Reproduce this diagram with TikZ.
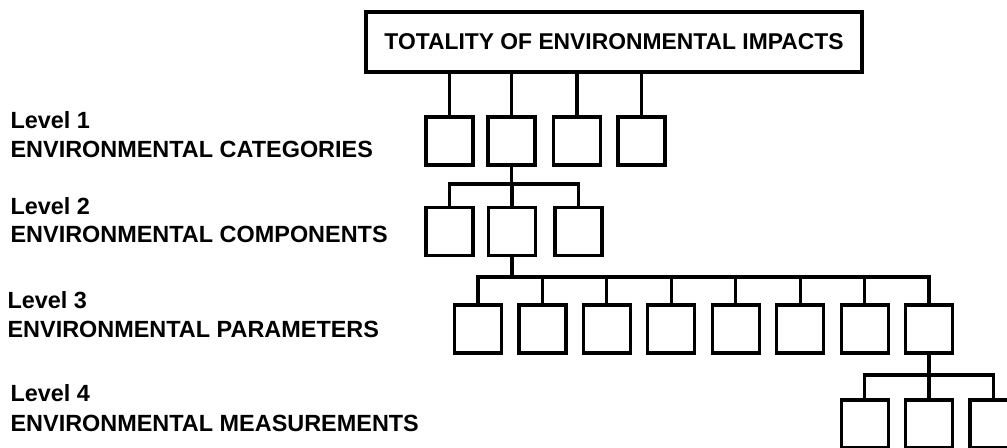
\documentclass[tikz,border=0pt]{standalone}
\usepackage{fontspec}
\setmainfont{Liberation Sans}
\usetikzlibrary{positioning}

\begin{document}
\begin{tikzpicture}[x=0.03cm,y=-0.03cm,line width=2.7pt,node distance=1.933cm,on grid]

    \tikzset{blk/.style={draw,rectangle,minimum width=1.41cm,minimum height=1.44cm,inner sep=0pt}}
    \tikzset{lbl/.style={anchor=base west,inner sep=0pt,font=\fontsize{20}{24}\selectfont\bfseries}}

    \useasboundingbox (0,0) rectangle (1007,447);
    \clip (0,0) rectangle (1007,447);

    \node[draw,rectangle,minimum width=14.88cm,minimum height=1.8cm,
          font=\fontsize{19.5}{24}\selectfont\bfseries] (top) at (614,42) {TOTALITY OF ENVIRONMENTAL IMPACTS};

    % level labels
    \node[lbl] (lev1) at (9,128) {Level 1};
    \node[lbl] (cat) at (9,157) {ENVIRONMENTAL CATEGORIES};
    \node[lbl] (lev2) at (9,214) {Level 2};
    \node[lbl] (comp) at (9,242) {ENVIRONMENTAL COMPONENTS};
    \node[lbl] (lev3) at (6,308) {Level 3};
    \node[lbl] (par) at (6,337) {ENVIRONMENTAL PARAMETERS};
    \node[lbl] (lev4) at (9,401) {Level 4};
    \node[lbl] (meas) at (9,431) {ENVIRONMENTAL MEASUREMENTS};

    % level 1
    \node[blk] (cat1) at (449.5,141) {};
    \node[blk] (cat2) [right = 1.86cm of cat1] {};
    \node[blk] (cat3) [right = 1.965cm of cat2] {};
    \node[blk] (cat4) [right = 1.935cm of cat3] {};

    % level 2
    \node[blk] (comp1) [below = 2.715cm of cat1] {};
    \node[blk] (comp2) [right = 1.875cm of comp1] {};
    \node[blk] (comp3) [right = 1.995cm of comp2] {};

    % level 3
    \node[blk] (par1) at (478,329) {};
    \node[blk] (par2) [right = of par1] {};
    \node[blk] (par3) [right = of par2] {};
    \node[blk] (par4) [right = of par3] {};
    \node[blk] (par5) [right = of par4] {};
    \node[blk] (par6) [right = of par5] {};
    \node[blk] (par7) [right = of par6] {};
    \node[blk] (par8) [right = of par7] {};

    % level 4
    \node[blk] (meas2) [below = 2.85cm of par8] {};
    \node[blk] (meas1) [left = of meas2] {};
    \node[blk] (meas3) [right = of meas2] {};

    \coordinate (fork2) at (0,184);
    \coordinate (fork3) at (0,277);
    \coordinate (fork4) at (0,375);

    \path
    (cat1.north) edge (cat1.north |- top.south)
    (cat2.north) edge (cat2.north |- top.south)
    (cat3.north) edge (cat3.north |- top.south)
    (cat4.north) edge (cat4.north |- top.south)
    (cat2.south) edge (cat2.south |- fork2)
    (comp2.north) edge (comp2.north |- fork2)
    (comp2.south) edge (comp2.south |- fork3)
    (par2.north) edge (par2.north |- fork3)
    (par3.north) edge (par3.north |- fork3)
    (par4.north) edge (par4.north |- fork3)
    (par5.north) edge (par5.north |- fork3)
    (par6.north) edge (par6.north |- fork3)
    (par7.north) edge (par7.north |- fork3)
    (par8.south) edge (par8.south |- fork4)
    (meas2.north) edge (meas2.north |- fork4)
    ;

    \draw (comp1.north) -- (comp1.north |- fork2) -- (comp3.north |- fork2) -- (comp3.north);
    \draw (par1.north) -- (par1.north |- fork3) -- (par8.north |- fork3) -- (par8.north);
    \draw (meas1.north) -- (meas1.north |- fork4) -- (meas3.north |- fork4) -- (meas3.north);
\end{tikzpicture}
\end{document}
